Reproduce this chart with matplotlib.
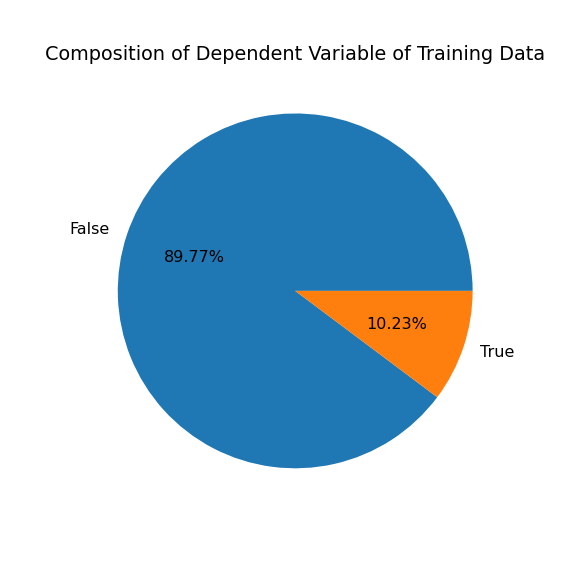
import matplotlib
matplotlib.use("Agg")
import matplotlib.pyplot as plt

labels = ["False", "True"]
values = [89.77, 10.23]

fig, ax = plt.subplots(figsize=(5, 5), dpi=115.2)
ax.pie(values, labels=labels, autopct="%.2f%%")
ax.set_title("Composition of Dependent Variable of Training Data")
fig.savefig("out.png")
